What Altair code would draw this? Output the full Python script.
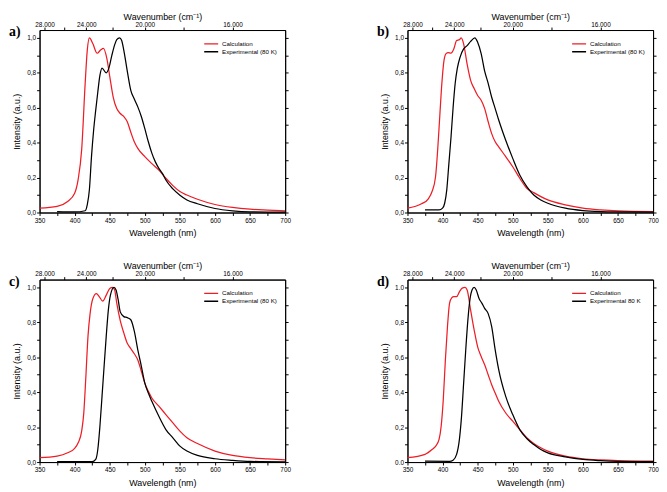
import altair as alt
import pandas as pd

RED = "#ee1c25"
FONT = "Liberation Sans"

# ---------------- data ----------------
a_calc_wl = [350, 375, 390, 400, 405, 410, 415, 418, 421, 426, 432, 437, 441, 446, 450, 455, 460, 465, 470, 475,
             480, 485, 490, 500, 510, 520, 530, 540, 550, 560, 575, 600, 625, 650, 675, 700]
a_calc_int = [0.025, 0.035, 0.063, 0.11, 0.19, 0.36, 0.74, 0.93, 1.0, 0.966, 0.912, 0.93, 0.94, 0.88, 0.78, 0.66,
              0.595, 0.567, 0.55, 0.52, 0.46, 0.405, 0.367, 0.32, 0.28, 0.243, 0.196, 0.154, 0.12, 0.10, 0.076,
              0.046, 0.029, 0.019, 0.014, 0.01]
a_exp_wl = [375, 400, 415, 418, 421, 424, 427, 430, 433, 436, 439, 445, 449, 453, 457, 460, 464, 467, 470, 475,
            480, 485, 490, 495, 500, 505, 510, 515, 520, 525, 530, 540, 550, 560, 575, 600, 625, 650, 700]
a_exp_int = [0.005, 0.003, 0.01, 0.045, 0.13, 0.32, 0.47, 0.585, 0.69, 0.785, 0.827, 0.80, 0.83, 0.90, 0.96, 0.99,
             1.0, 0.985, 0.93, 0.81, 0.70, 0.65, 0.605, 0.55, 0.48, 0.405, 0.34, 0.29, 0.253, 0.224, 0.186, 0.135,
             0.099, 0.072, 0.05, 0.023, 0.01, 0.004, 0.002]

b_calc_wl = [350, 370, 380, 385, 390, 393, 396, 399, 402, 405, 408, 412, 416, 420, 424, 426.5, 430, 435, 440, 445,
             450, 455, 460, 465, 470, 475, 480, 490, 500, 510, 520, 530, 550, 575, 600, 625, 650, 700]
b_calc_int = [0.025, 0.05, 0.08, 0.12, 0.205, 0.357, 0.55, 0.74, 0.87, 0.91, 0.916, 0.913, 0.937, 0.985, 0.99, 1.0,
              0.966, 0.85, 0.757, 0.71, 0.67, 0.643, 0.595, 0.52, 0.452, 0.405, 0.376, 0.32, 0.262, 0.196, 0.139,
              0.114, 0.072, 0.044, 0.025, 0.015, 0.009, 0.005]
b_exp_wl = [375, 395, 400, 403, 406, 409, 412, 415, 418, 421, 425, 430, 435, 440, 446, 450, 455, 460, 465, 470,
            475, 480, 490, 500, 510, 520, 530, 540, 550, 575, 600, 625, 650, 700]
b_exp_int = [0.015, 0.015, 0.025, 0.053, 0.13, 0.28, 0.43, 0.60, 0.74, 0.825, 0.89, 0.937, 0.956, 0.98, 1.0, 0.975,
             0.91, 0.81, 0.74, 0.66, 0.595, 0.53, 0.414, 0.31, 0.215, 0.148, 0.10, 0.072, 0.053, 0.025, 0.011,
             0.005, 0.003, 0.002]

c_calc_wl = [350, 375, 390, 400, 405, 410, 413, 416, 419, 422, 426, 431, 435, 440, 445, 450, 454, 457, 460, 465,
             470, 475, 480, 485, 490, 495, 500, 505, 510, 520, 530, 540, 550, 560, 575, 600, 625, 650, 675, 700]
c_calc_int = [0.025, 0.034, 0.053, 0.078, 0.11, 0.177, 0.28, 0.49, 0.72, 0.85, 0.937, 0.965, 0.947, 0.922, 0.956,
              0.994, 1.0, 0.985, 0.91, 0.81, 0.74, 0.68, 0.65, 0.62, 0.585, 0.52, 0.452, 0.405, 0.367, 0.32, 0.272,
              0.224, 0.177, 0.139, 0.106, 0.063, 0.038, 0.025, 0.018, 0.012]
c_exp_wl = [375, 425, 430, 433, 436, 439, 442, 445, 448, 451, 456, 459, 462, 465, 470, 475, 480, 485, 490, 495,
            500, 505, 510, 520, 530, 540, 550, 560, 575, 600, 625, 650, 700]
c_exp_int = [0.002, 0.002, 0.015, 0.072, 0.205, 0.376, 0.55, 0.72, 0.87, 0.956, 1.0, 0.985, 0.93, 0.86, 0.833,
             0.827, 0.815, 0.75, 0.643, 0.55, 0.452, 0.395, 0.348, 0.262, 0.186, 0.139, 0.091, 0.063, 0.038, 0.019,
             0.01, 0.004, 0.001]

d_calc_wl = [350, 375, 385, 390, 395, 398, 401, 404, 407, 410, 413, 416, 420, 424, 428, 432, 435, 440, 445, 450,
             455, 460, 465, 470, 475, 480, 490, 500, 510, 520, 530, 540, 550, 575, 600, 625, 650, 700]
d_calc_int = [0.025, 0.044, 0.072, 0.09, 0.13, 0.205, 0.357, 0.585, 0.776, 0.91, 0.94, 0.947, 0.947, 0.975, 0.996,
              1.0, 0.985, 0.87, 0.757, 0.66, 0.605, 0.557, 0.50, 0.443, 0.395, 0.348, 0.281, 0.234, 0.186, 0.139,
              0.106, 0.082, 0.063, 0.034, 0.019, 0.012, 0.008, 0.005]
d_exp_wl = [375, 410, 415, 420, 424, 427, 430, 433, 436, 439, 442, 445, 448, 452, 456, 460, 465, 470, 475, 480,
            490, 500, 510, 520, 530, 540, 550, 575, 600, 625, 650, 700]
d_exp_int = [0.005, 0.004, 0.011, 0.044, 0.13, 0.26, 0.45, 0.64, 0.81, 0.93, 0.985, 1.0, 0.985, 0.937, 0.91, 0.88,
             0.85, 0.776, 0.643, 0.53, 0.376, 0.272, 0.186, 0.135, 0.10, 0.072, 0.053, 0.03, 0.015, 0.008, 0.004,
             0.002]

wl_ticks = [350, 375, 400, 425, 450, 475, 500, 525, 550, 575, 600, 625, 650, 675, 700]
y_ticks = [0.0, 0.1, 0.2, 0.3, 0.4, 0.5, 0.6, 0.7, 0.8, 0.9, 1.0]
wavenumbers = [28000, 26000, 24000, 22000, 20000, 18000, 16000]
wn_positions = [1e7 / k for k in wavenumbers]

Y_EXPR_COMMA = "round(datum.value*10) % 2 == 0 ? replace(format(datum.value, '.1f'), '.', ',') : ''"
Y_EXPR_D = ("round(datum.value*10) == 10 ? '1.0' : round(datum.value*10) == 0 ? '0.0' : "
            "round(datum.value*10) % 2 == 0 ? replace(format(datum.value, '.1f'), '.', ',') : ''")
TOP_EXPR = ("round(10000000/datum.value/1000) % 4 == 0 ? "
            "format(round(10000000/datum.value/1000), 'd') + '.000' : ''")

W, H = 249, 185


def panel(label, calc_wl, calc_int, exp_wl, exp_int, exp_name, y_expr):
    df = pd.DataFrame({
        "wl": calc_wl + exp_wl,
        "intensity": calc_int + exp_int,
        "series": ["Calculation"] * len(calc_wl) + [exp_name] * len(exp_wl),
    })
    xs = alt.Scale(domain=[350, 700], nice=False, zero=False)
    ys = alt.Scale(domain=[0, 1.045], nice=False, zero=False)
    color = alt.Color(
        "series:N",
        scale=alt.Scale(domain=["Calculation", exp_name], range=[RED, "black"]),
        legend=alt.Legend(title=None, orient="none", legendX=166, legendY=10,
                          symbolType="stroke", symbolSize=200, symbolStrokeWidth=1.4,
                          labelFontSize=6.3, labelFont=FONT, rowPadding=0, labelOffset=3,
                          clipHeight=8, padding=0),
    )
    base = alt.Chart(df)
    lines = base.mark_line(strokeWidth=1.25, interpolate="monotone").encode(
        x=alt.X("wl:Q", scale=xs,
                axis=alt.Axis(title="Wavelength (nm)", values=wl_ticks,
                              labelExpr="datum.value % 50 == 0 ? datum.value : ''",
                              labelPadding=2, titlePadding=5)),
        y=alt.Y("intensity:Q", scale=ys,
                axis=alt.Axis(title="Intensity (a.u.)", values=y_ticks, labelExpr=y_expr,
                              labelPadding=1, titlePadding=5)),
        color=color,
        order=alt.Order("wl:Q"),
    )
    frame = base.mark_line(opacity=0).encode(
        x=alt.X("wl:Q", scale=xs,
                axis=alt.Axis(orient="top", title="Wavenumber (cm\u207b\u00b9)", values=wn_positions,
                              labelExpr=TOP_EXPR, labelPadding=0, titlePadding=0)),
        y=alt.Y("intensity:Q", scale=ys,
                axis=alt.Axis(orient="right", title=None, labels=False, values=y_ticks)),
        detail="series:N",
    )
    lab = alt.Chart(pd.DataFrame({"t": [label]})).mark_text(
        font="Liberation Serif", fontWeight="bold", fontSize=14, align="left", baseline="middle"
    ).encode(text="t:N", x=alt.value(-31), y=alt.value(2))
    return alt.layer(lines, frame, lab).resolve_axis(x="independent", y="independent").properties(
        width=W, height=H)


pa = panel("a)", a_calc_wl, a_calc_int, a_exp_wl, a_exp_int, "Experimental (80 K)", Y_EXPR_COMMA)
pb = panel("b)", b_calc_wl, b_calc_int, b_exp_wl, b_exp_int, "Experimental (80 K)", Y_EXPR_COMMA)
pc = panel("c)", c_calc_wl, c_calc_int, c_exp_wl, c_exp_int, "Experimental (80 K)", Y_EXPR_COMMA)
pd_ = panel("d)", d_calc_wl, d_calc_int, d_exp_wl, d_exp_int, "Experimental 80 K", Y_EXPR_D)

chart = alt.vconcat(
    alt.hconcat(pa, pb, spacing=86).resolve_scale(color="independent"),
    alt.hconcat(pc, pd_, spacing=86).resolve_scale(color="independent"),
    spacing=23,
).resolve_scale(color="independent").properties(padding=0).configure_view(
    stroke="black", strokeWidth=1).configure_axis(
    grid=False, domainColor="black", tickColor="black", labelColor="black", titleColor="black",
    tickSize=3, labelFont=FONT, titleFont=FONT, labelFontSize=6.5, titleFontSize=9,
    titleFontWeight="normal", labelFlush=False, domainWidth=1, tickWidth=1,
).configure_legend(labelColor="black")

chart.save("out.html", embed_options={"renderer": "svg", "actions": False})
